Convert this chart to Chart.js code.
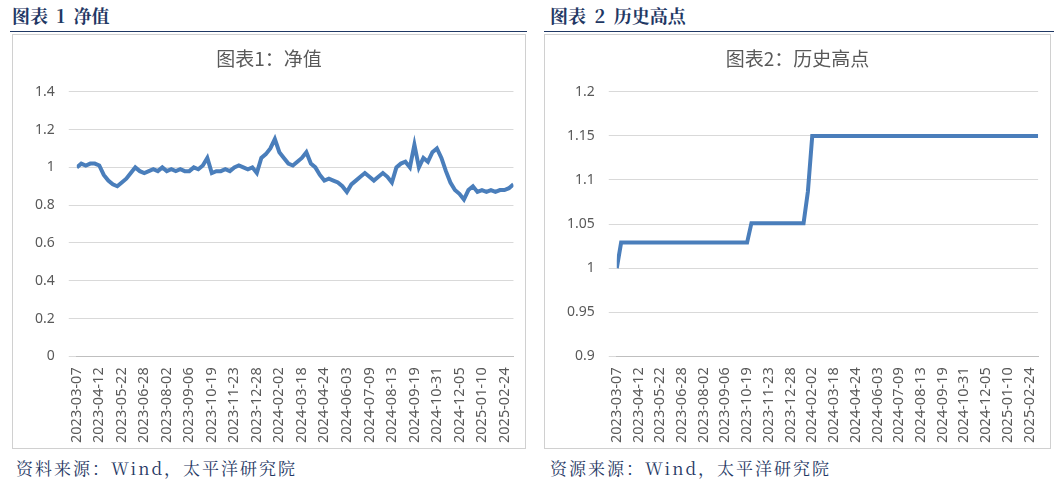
<!DOCTYPE html>
<html><head><meta charset="utf-8">
<script src="https://cdn.jsdelivr.net/npm/chart.js@4"></script>
<style>
body{margin:0;width:1054px;height:483px;background:#fff;font-family:"Noto Sans CJK SC",sans-serif;position:relative;overflow:hidden}
.hdr{position:absolute;top:2px;font-weight:bold;color:#1f3864;font-size:18px;font-family:"Noto Serif CJK SC","Noto Sans CJK SC",serif;word-spacing:4px}
.line{position:absolute;top:31px;height:1px;background:#1f3864}
.box{position:absolute;top:34px;height:415px;border:1px solid #d0d0d0;box-sizing:border-box}
.src{position:absolute;top:455px;color:#1f3864;font-size:17px;font-family:"Noto Serif CJK SC","Noto Sans CJK SC",serif;letter-spacing:2px}
</style></head><body>
<div class="hdr" style="left:12px">图表 1 净值</div>
<div class="line" style="left:10px;width:517px"></div>
<div class="box" style="left:12px;width:514px"><canvas id="c1"></canvas></div>
<div class="src" style="left:16px">资料来源：Wind，太平洋研究院</div>
<div class="hdr" style="left:550px">图表 2 历史高点</div>
<div class="line" style="left:544px;width:510px"></div>
<div class="box" style="left:544px;width:507px"><canvas id="c2"></canvas></div>
<div class="src" style="left:550px">资源来源：Wind，太平洋研究院</div>
<script>
const tickLabels=["2023-03-07","2023-04-12","2023-05-22","2023-06-28","2023-08-02","2023-09-06","2023-10-19","2023-11-23","2023-12-28","2024-02-02","2024-03-18","2024-04-24","2024-06-03","2024-07-09","2024-08-13","2024-09-19","2024-10-31","2024-12-05","2025-01-10","2025-02-24"];
const netValue=[1.00,1.02,1.01,1.02,1.02, 1.01,0.96,0.93,0.91,0.90, 0.92,0.94,0.97,1.00,0.98, 0.97,0.98,0.99,0.98,1.00, 0.98,0.99,0.98,0.99,0.98, 0.98,1.00,0.99,1.01,1.05, 0.97,0.98,0.98,0.99,0.98, 1.00,1.01,1.00,0.99,1.00, 0.97,1.05,1.07,1.10,1.15, 1.08,1.05,1.02,1.01,1.03, 1.05,1.08,1.02,1.00,0.96, 0.93,0.94,0.93,0.92,0.90, 0.87,0.91,0.93,0.95,0.97, 0.95,0.93,0.95,0.97,0.95, 0.92,1.00,1.02,1.03,1.00, 1.12,1.00,1.05,1.03,1.08, 1.10,1.05,0.98,0.92,0.88, 0.86,0.83,0.88,0.90,0.87, 0.88,0.87,0.88,0.87,0.88, 0.88,0.89,0.91];
const highValue=[1.000,1.029,1.029,1.029,1.029, 1.029,1.029,1.029,1.029,1.029, 1.029,1.029,1.029,1.029,1.029, 1.029,1.029,1.029,1.029,1.029, 1.029,1.029,1.029,1.029,1.029, 1.029,1.029,1.029,1.029,1.029, 1.029,1.051,1.051,1.051,1.051, 1.051,1.051,1.051,1.051,1.051, 1.051,1.051,1.051,1.051,1.087, 1.15,1.15,1.15,1.15,1.15, 1.15,1.15,1.15,1.15,1.15, 1.15,1.15,1.15,1.15,1.15, 1.15,1.15,1.15,1.15,1.15, 1.15,1.15,1.15,1.15,1.15, 1.15,1.15,1.15,1.15,1.15, 1.15,1.15,1.15,1.15,1.15, 1.15,1.15,1.15,1.15,1.15, 1.15,1.15,1.15,1.15,1.15, 1.15,1.15,1.15,1.15,1.15, 1.15,1.15,1.15];
const tickColor='#595959';
function make(id,vals,title,ymin,ymax,step){
  new Chart(document.getElementById(id),{type:'line',
    data:{datasets:[{data:vals.map((v,i)=>({x:i,y:v})),borderColor:'#4a7ebb',borderWidth:4,pointRadius:0,tension:0}]},
    options:{animation:false,responsive:true,maintainAspectRatio:false,
      layout:{padding:{left:8,right:8,top:8,bottom:2}},
      plugins:{legend:{display:false},title:{display:true,text:title,color:'#595959',font:{size:19,family:'"Noto Sans CJK SC"',weight:'normal'},padding:{top:4,bottom:22}}},
      scales:{
        x:{type:'linear',min:0,max:vals.length-1,grid:{display:false},border:{color:'#bfbfbf'},
           afterBuildTicks:ax=>{ax.ticks=tickLabels.map((t,i)=>({value:i*5}));},
           ticks:{autoSkip:false,maxRotation:90,minRotation:90,color:tickColor,font:{size:14.5,family:'"Noto Sans"'},
             callback:v=>tickLabels[Math.round(v/5)]||''}},
        y:{min:ymin,max:ymax,grid:{color:'#d9d9d9'},border:{display:false},
           ticks:{stepSize:step,color:tickColor,font:{size:14,family:'"Noto Sans"'},padding:14,callback:v=>+v.toFixed(2)}}
      }}});
}
make('c1',netValue,'图表1：净值',0,1.4,0.2);
make('c2',highValue,'图表2：历史高点',0.9,1.2,0.05);
</script></body></html>
